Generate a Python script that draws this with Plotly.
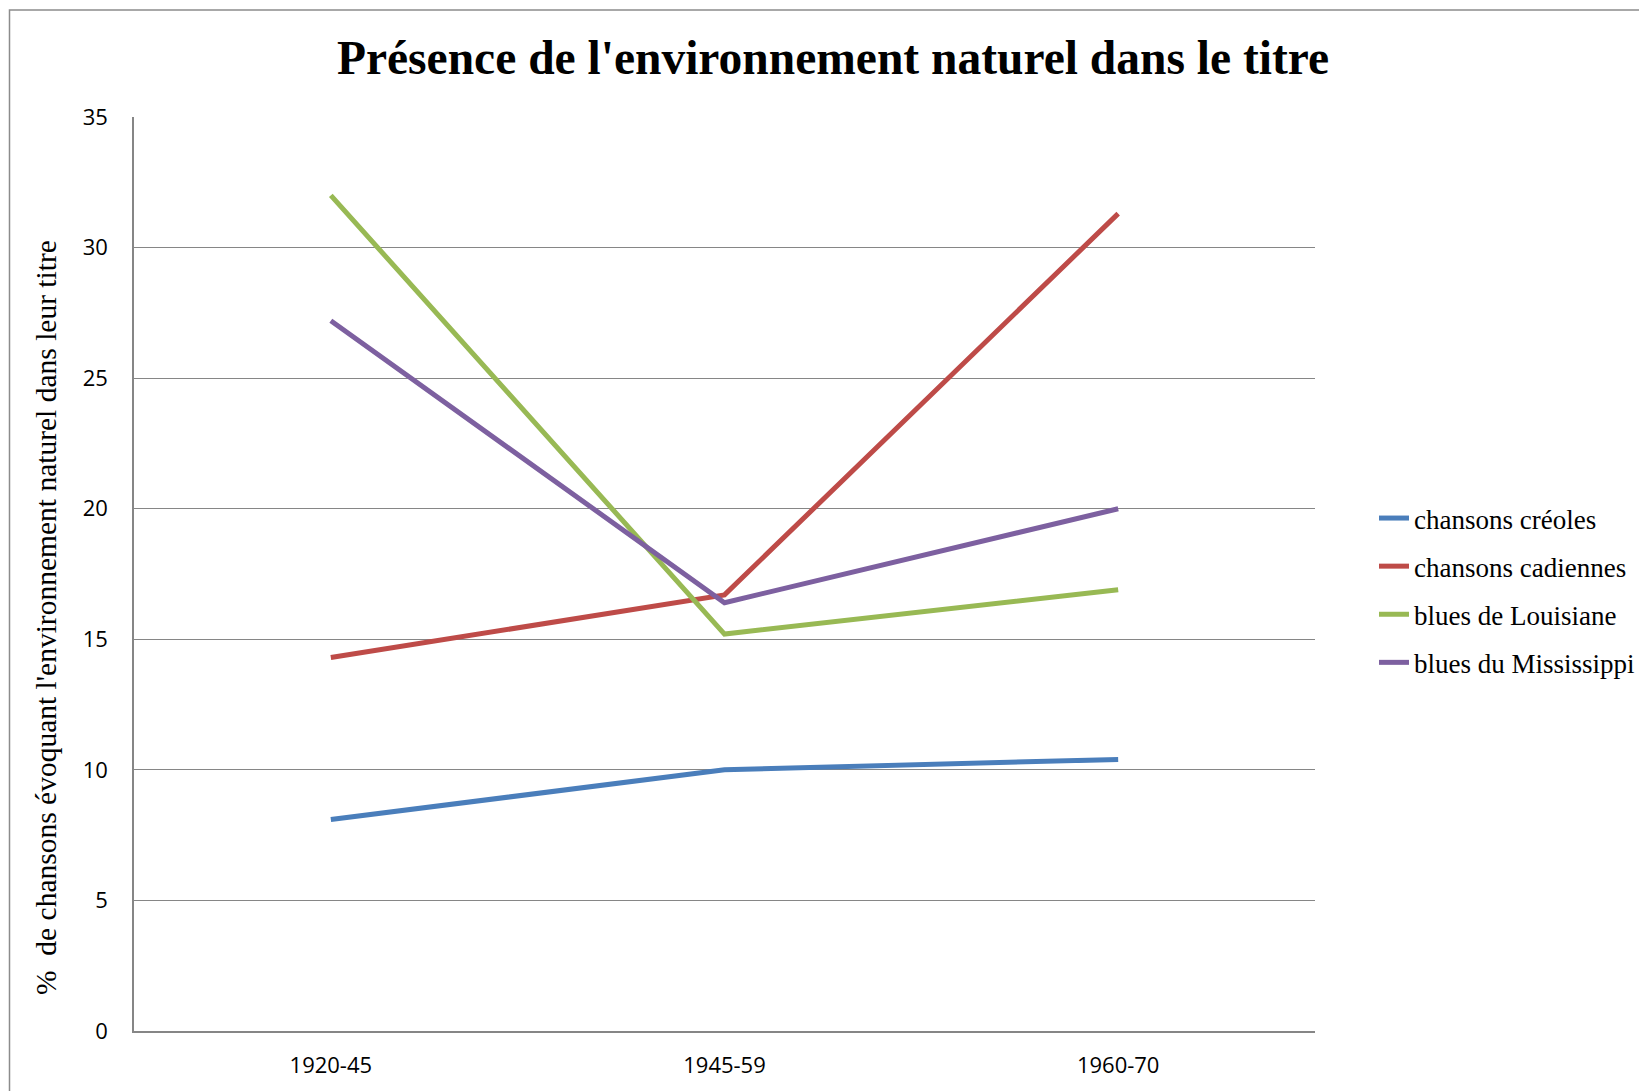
import plotly.graph_objects as go

periods = ["1920-45", "1945-59", "1960-70"]
creoles = [8.1, 10.0, 10.4]
cadiennes = [14.3, 16.7, 31.3]
blues_louisiane = [32.0, 15.2, 16.9]
blues_mississippi = [27.2, 16.4, 20.0]

series_names = ["chansons créoles", "chansons cadiennes", "blues de Louisiane", "blues du Mississippi"]
series_values = [creoles, cadiennes, blues_louisiane, blues_mississippi]
series_colors = ["#4A7EBB", "#BE4B48", "#98B954", "#7D60A0"]

y_ticks = [0, 5, 10, 15, 20, 25, 30, 35]

W, H = 1639, 1091
L, R, T, B = 134, 1315, 117, 1031

fig = go.Figure()
for i, (name, vals, col) in enumerate(zip(series_names, series_values, series_colors)):
    fig.add_trace(go.Scatter(
        x=periods, y=vals, name=name, mode="lines",
        line=dict(color=col, width=5),
        legendgroup="g%d" % i,
    ))

pw = R - L
ph = B - T

def px(x):
    return (x - L) / pw

def py(y):
    return (B - y) / ph

fig.update_layout(
    width=W, height=H,
    margin=dict(l=L, r=W - R, t=T, b=H - B, autoexpand=False),
    paper_bgcolor="white", plot_bgcolor="white",
    title=dict(
        text="<b>Présence de l'environnement naturel dans le titre</b>",
        font=dict(family="Liberation Serif", size=47.5, color="black"),
        x=833 / W, xanchor="center", xref="container",
        y=1 - 57 / H, yanchor="middle", yref="container",
    ),
    xaxis=dict(
        type="category", range=[-0.5, 2.5],
        showgrid=False, showline=True, linecolor="#868686", linewidth=1.5,
        ticks="", tickfont=dict(family="Open Sans", size=22, color="black"),
        ticklabelstandoff=14,
    ),
    yaxis=dict(
        range=[0, 35], tickvals=y_ticks,
        showgrid=True, gridcolor="#868686", gridwidth=1.3,
        showline=True, linecolor="#868686", linewidth=1.5,
        zeroline=False, ticks="",
        tickfont=dict(family="Open Sans", size=22, color="black"),
        ticklabelstandoff=20,
    ),
    showlegend=True,
    legend=dict(
        x=px(1374), xanchor="left", y=py(494), yanchor="top",
        font=dict(family="Liberation Serif", size=27, color="black"),
        tracegroupgap=10, bgcolor="rgba(0,0,0,0)",
    ),
    annotations=[dict(
        text="%  de chansons évoquant l'environnement naturel dans leur titre",
        textangle=-90, xref="paper", yref="paper",
        x=px(46), y=py(618), xanchor="center", yanchor="middle",
        showarrow=False,
        font=dict(family="Liberation Serif", size=29.5, color="black"),
    )],
    shapes=[dict(
        type="rect", xref="paper", yref="paper",
        x0=px(9.5), x1=px(1700), y0=py(1150), y1=py(10),
        line=dict(color="#8C8C8C", width=1.5), fillcolor="rgba(0,0,0,0)",
        layer="below",
    )],
)

fig.write_html("out.html", config={"displayModeBar": False},
               post_script="document.body.style.margin='0';document.body.style.overflow='hidden';")
